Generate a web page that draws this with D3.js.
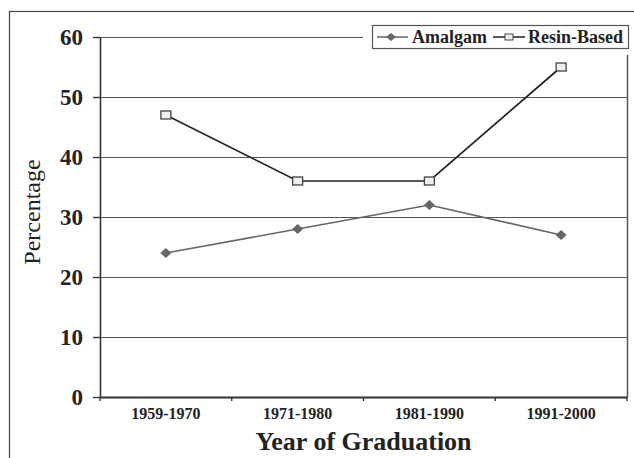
<!DOCTYPE html>
<html><head><meta charset="utf-8">
<script src="https://cdn.jsdelivr.net/npm/d3@7"></script>
</head><body style="margin:0">
<svg id="c" width="634" height="458" font-family="Liberation Serif"></svg>
<script>
const categories = ["1959-1970","1971-1980","1981-1990","1991-2000"];
const amalgam = [24,28,32,27];
const resin = [47,36,36,55];
const yTicks = [0,10,20,30,40,50,60];

const FF = "'Liberation Serif'";
const svg = d3.select("#c");
const L=100, R=627, T=37, B=397;
const x = d3.scaleBand().domain(categories).range([L,R]);
const y = d3.scaleLinear().domain([0,60]).range([B,T]);

// outer frame
svg.append("rect").attr("x",9.5).attr("y",11.5).attr("width",640).attr("height",470)
  .attr("fill","none").attr("stroke","#444").attr("stroke-width",1.2);

// gridlines
svg.append("g").selectAll("line").data(yTicks.filter(d=>d>0)).join("line")
  .attr("x1",L).attr("x2",R).attr("y1",d=>y(d)+0.5).attr("y2",d=>y(d)+0.5)
  .attr("stroke","#555").attr("stroke-width",1.2);
// right border
svg.append("line").attr("x1",R+0.5).attr("x2",R+0.5).attr("y1",T).attr("y2",B).attr("stroke","#555").attr("stroke-width",1.5);

// y axis
const ya = svg.append("g").attr("transform",`translate(${L},0)`)
  .call(d3.axisLeft(y).tickValues(yTicks).tickSize(7).tickPadding(10).tickSizeOuter(0));
ya.attr("font-family","Liberation Serif").attr("font-size",23);
ya.select(".domain").attr("stroke","#333").attr("stroke-width",1.6);
ya.selectAll(".tick line").attr("stroke","#333").attr("stroke-width",1.4);
ya.selectAll("text").style("font-family",FF).attr("font-weight","bold").attr("fill","#222");

// x axis
const xa = svg.append("g").attr("transform",`translate(0,${B})`)
  .call(d3.axisBottom(x).tickSize(0).tickPadding(11));
xa.attr("font-family","Liberation Serif").attr("font-size",16);
xa.select(".domain").attr("stroke","#333").attr("stroke-width",1.8);
xa.selectAll("text").style("font-family",FF).attr("font-weight","bold").attr("fill","#222");
const bounds = categories.map(c=>x(c)).concat([x.range()[1]]);
svg.append("g").selectAll("line").data(bounds).join("line")
  .attr("x1",d=>d).attr("x2",d=>d).attr("y1",B).attr("y2",B+4).attr("stroke","#333").attr("stroke-width",1.4);

// titles
svg.append("text").attr("x",(L+R)/2).attr("y",450).attr("text-anchor","middle")
  .style("font-family",FF).attr("font-size",26).attr("font-weight","bold").attr("fill","#222").text("Year of Graduation");
svg.append("text").attr("transform","translate(40,212) rotate(-90)").attr("text-anchor","middle")
  .style("font-family",FF).attr("font-size",24).attr("fill","#222").text("Percentage");

const cx = d => x(d)+x.bandwidth()/2;
const line = d3.line().x((d,i)=>cx(categories[i])).y(d=>y(d));

// amalgam
svg.append("path").datum(amalgam).attr("d",line).attr("fill","none").attr("stroke","#666").attr("stroke-width",1.6);
svg.append("g").selectAll("path").data(amalgam).join("path")
  .attr("d",(d,i)=>{const X=cx(categories[i]),Y=y(d);return `M${X-5.5},${Y}L${X},${Y-5}L${X+5.5},${Y}L${X},${Y+5}Z`;})
  .attr("fill","#666");

// resin
svg.append("path").datum(resin).attr("d",line).attr("fill","none").attr("stroke","#222").attr("stroke-width",1.7);
svg.append("g").selectAll("rect").data(resin).join("rect")
  .attr("x",(d,i)=>cx(categories[i])-5).attr("y",d=>y(d)-4).attr("width",10).attr("height",8)
  .attr("fill","#eee").attr("stroke","#444").attr("stroke-width",1.3);

// legend
svg.append("rect").attr("x",363).attr("y",20).attr("width",271).attr("height",35).attr("fill","#fff");
svg.append("rect").attr("x",372.5).attr("y",25.5).attr("width",256).attr("height",23)
  .attr("fill","#fff").attr("stroke","#555").attr("stroke-width",1.2);
const lg = svg.append("g");
lg.append("line").attr("x1",377).attr("x2",408).attr("y1",37).attr("y2",37).attr("stroke","#666").attr("stroke-width",1.5);
lg.append("path").attr("d","M386,37L391,33L396,37L391,41Z").attr("fill","#666");
lg.append("text").attr("x",412).attr("y",42.5).style("font-family",FF).attr("font-size",18).attr("font-weight","bold").attr("fill","#222").text("Amalgam");
lg.append("line").attr("x1",493).attr("x2",525).attr("y1",37).attr("y2",37).attr("stroke","#222").attr("stroke-width",1.5);
lg.append("rect").attr("x",505).attr("y",34).attr("width",8).attr("height",6).attr("fill","#eee").attr("stroke","#444");
lg.append("text").attr("x",528).attr("y",42.5).style("font-family",FF).attr("font-size",18).attr("font-weight","bold").attr("fill","#222").text("Resin-Based");
</script>
</body></html>
